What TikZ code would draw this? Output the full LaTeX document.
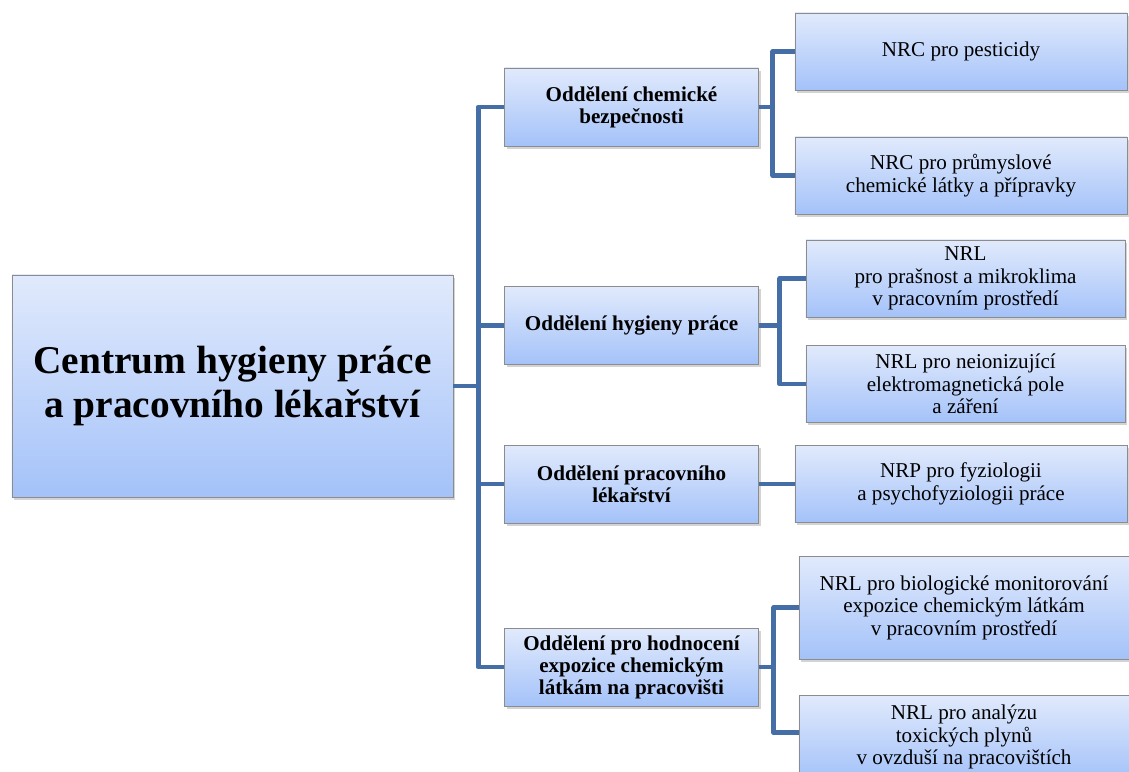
\documentclass[tikz,border=0pt]{standalone}
\usepackage{fontspec}
\setmainfont{Liberation Serif}
\usepackage{xcolor}
\usetikzlibrary{shapes,positioning,calc,shadows}
\definecolor{orgtop}{RGB}{225,234,252}
\definecolor{orgbottom}{RGB}{164,194,249}
\definecolor{orgline}{RGB}{70,110,166}
\definecolor{orgframe}{RGB}{140,140,140}
\tikzset{
  orgbox/.style={draw=orgframe, line width=0.5pt, top color=orgtop, bottom color=orgbottom,
    align=center, inner sep=2pt,
    drop shadow={opacity=0.35, shadow xshift=1.5pt, shadow yshift=-2pt}},
  rootbox/.style={orgbox, minimum width=11.025cm, minimum height=5.55cm,
    font=\fontsize{28}{32}\selectfont\bfseries},
  deptbox/.style={orgbox, minimum width=6.35cm, minimum height=1.95cm,
    font=\fontsize{15}{15.5}\selectfont\bfseries},
  labbox/.style={orgbox, minimum width=8.3cm, minimum height=1.925cm,
    font=\fontsize{15}{16}\selectfont},
  link/.style={draw=orgline, line width=3.5pt, line join=round}
}

\begin{document}
\begin{tikzpicture}[x=0.025cm, y=-0.025cm]
    \useasboundingbox (0,0) rectangle (1129,771);
    % Root
    \node[rootbox] (root) at (232.5,386) {Centrum hygieny práce\\a pracovního lékařství};
    % Departments
    \node[deptbox] (chem) at (631.5,107) {Oddělení chemické\\bezpečnosti};
    \node[deptbox] (hyg) at (631.5,325.5) {Oddělení hygieny práce};
    \node[deptbox] (lek) at (631.5,484) {Oddělení pracovního\\lékařství};
    \node[deptbox] (expo) at (631.5,667) {Oddělení pro hodnocení\\expozice chemickým\\látkám na pracovišti};
    % Reference laboratories
    \node[labbox] (pest) at (961,51.5) {NRC pro pesticidy};
    \node[labbox] (prum) at (961,175.5) {NRC pro průmyslové\\chemické látky a přípravky};
    \node[labbox, minimum width=7.975cm] (pras) at (965.5,278.5) {NRL\\pro prašnost a mikroklima\\v pracovním prostředí};
    \node[labbox, minimum width=7.975cm] (neion) at (965.5,384) {NRL pro neionizující\\elektromagnetická pole\\a záření};
    \node[labbox] (fyz) at (961,484) {NRP pro fyziologii\\a psychofyziologii práce};
    \node[labbox, minimum width=8.25cm, minimum height=2.575cm] (bio) at (964,607.5) {NRL pro biologické monitorování\\expozice chemickým látkám\\v pracovním prostředí};
    \node[labbox, minimum width=8.25cm, minimum height=2.1cm] (plyn) at (964,737) {NRL pro analýzu\\toxických plynů\\v ovzduší na pracovištích};
    % Trunk
    \foreach \d in {chem,hyg,lek,expo}
        \draw[link] (root.east) -- ++(25,0) |- (\d.west);
    % Branches
    \draw[link] (chem.east) -- ++(14,0) |- (pest.west);
    \draw[link] (chem.east) -- ++(14,0) |- (prum.west);
    \draw[link] (hyg.east) -- ++(21,0) |- (pras.west);
    \draw[link] (hyg.east) -- ++(21,0) |- (neion.west);
    \draw[link] (lek.east) -- (fyz.west);
    \draw[link] (expo.east) -- ++(15,0) |- (bio.west);
    \draw[link] (expo.east) -- ++(15,0) |- ([yshift=3pt]plyn.west);
\end{tikzpicture}
\end{document}
